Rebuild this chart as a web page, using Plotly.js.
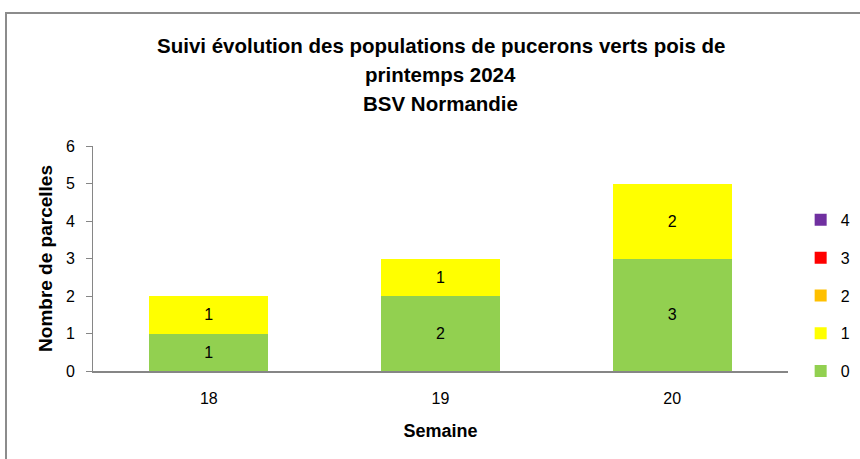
<!DOCTYPE html>
<html>
<head>
<meta charset="utf-8">
<script src="https://cdn.plot.ly/plotly-3.0.1.min.js"></script>
<style>
  html, body { margin: 0; padding: 0; background: #fff; }
  #wrap { position: relative; width: 860px; height: 459px; overflow: hidden; }
  #chart { position: absolute; left: 0; top: 0; width: 860px; height: 459px; }
  #frame { position: absolute; left: 5px; top: 12px; width: 900px; height: 500px;
           border-left: 2px solid #8c8c8c; border-top: 2px solid #8c8c8c; pointer-events: none; }
</style>
</head>
<body>
<div id="wrap">
  <div id="chart"></div>
  <div id="frame"></div>
</div>
<script>
const weeks = ['18', '19', '20'];
const classes = ['0', '1', '2', '3', '4'];
const class0 = [1, 2, 3];
const class1 = [1, 1, 2];
const class2 = [0, 0, 0];
const class3 = [0, 0, 0];
const class4 = [0, 0, 0];
const colors = ['#92D050', '#FFFF00', '#FFC000', '#FF0000', '#7030A0'];
const titleLines = ['Suivi évolution des populations de pucerons verts pois de', 'printemps 2024', 'BSV Normandie'];

const series = [class0, class1, class2, class3, class4];
const FONT = 'Liberation Sans, Arial, sans-serif';

const traces = series.map((vals, i) => ({
  type: 'bar',
  name: classes[i],
  x: weeks,
  y: vals,
  text: vals.map(v => v ? String(v) : ''),
  textposition: 'inside',
  insidetextanchor: 'middle',
  textangle: 0,
  textfont: { family: FONT, size: 16, color: '#000' },
  marker: { color: colors[i], line: { width: 0 } },
  legendgroup: 'g' + i,
  legendrank: 1000 - i,
  hoverinfo: 'name+y'
}));

const annotations = titleLines.map((t, i) => ({
  text: '<b>' + t + '</b>',
  xref: 'paper', yref: 'paper',
  x: 0.5, y: 1 + (101 - i * 29.5) / 225,
  xanchor: 'center', yanchor: 'middle',
  showarrow: false,
  font: { family: FONT, size: 20.5, color: '#000' }
}));

const layout = {
  width: 860, height: 459,
  margin: { l: 93, r: 72, t: 146, b: 88, autoexpand: false },
  paper_bgcolor: '#fff', plot_bgcolor: '#fff',
  barmode: 'stack',
  bargap: 0.486,
  showlegend: true,
  legend: {
    xref: 'container',
    x: 0.931, xanchor: 'left', y: 0.747, yanchor: 'top',
    traceorder: 'grouped',
    tracegroupgap: 14,
    font: { family: FONT, size: 16, color: '#000' },
    itemwidth: 30
  },
  annotations: annotations,
  xaxis: {
    type: 'category',
    showline: true, linecolor: '#868686', linewidth: 2,
    ticks: '', showgrid: false, zeroline: false,
    tickfont: { family: FONT, size: 16, color: '#000' },
    ticklabelstandoff: 12,
    title: { text: '<b>Semaine</b>', font: { family: FONT, size: 18, color: '#000' }, standoff: 18 }
  },
  yaxis: {
    range: [0, 6], dtick: 1,
    showline: true, linecolor: '#868686', linewidth: 1,
    ticks: 'outside', ticklen: 6, tickcolor: '#868686', tickwidth: 1,
    showgrid: false, zeroline: false,
    tickfont: { family: FONT, size: 16, color: '#000' },
    ticklabelstandoff: 8,
    title: { text: '<b>Nombre de parcelles</b>', font: { family: FONT, size: 19, color: '#000' }, standoff: 8 }
  }
};

Plotly.newPlot('chart', traces, layout, { displayModeBar: false, staticPlot: true });
</script>
</body>
</html>
